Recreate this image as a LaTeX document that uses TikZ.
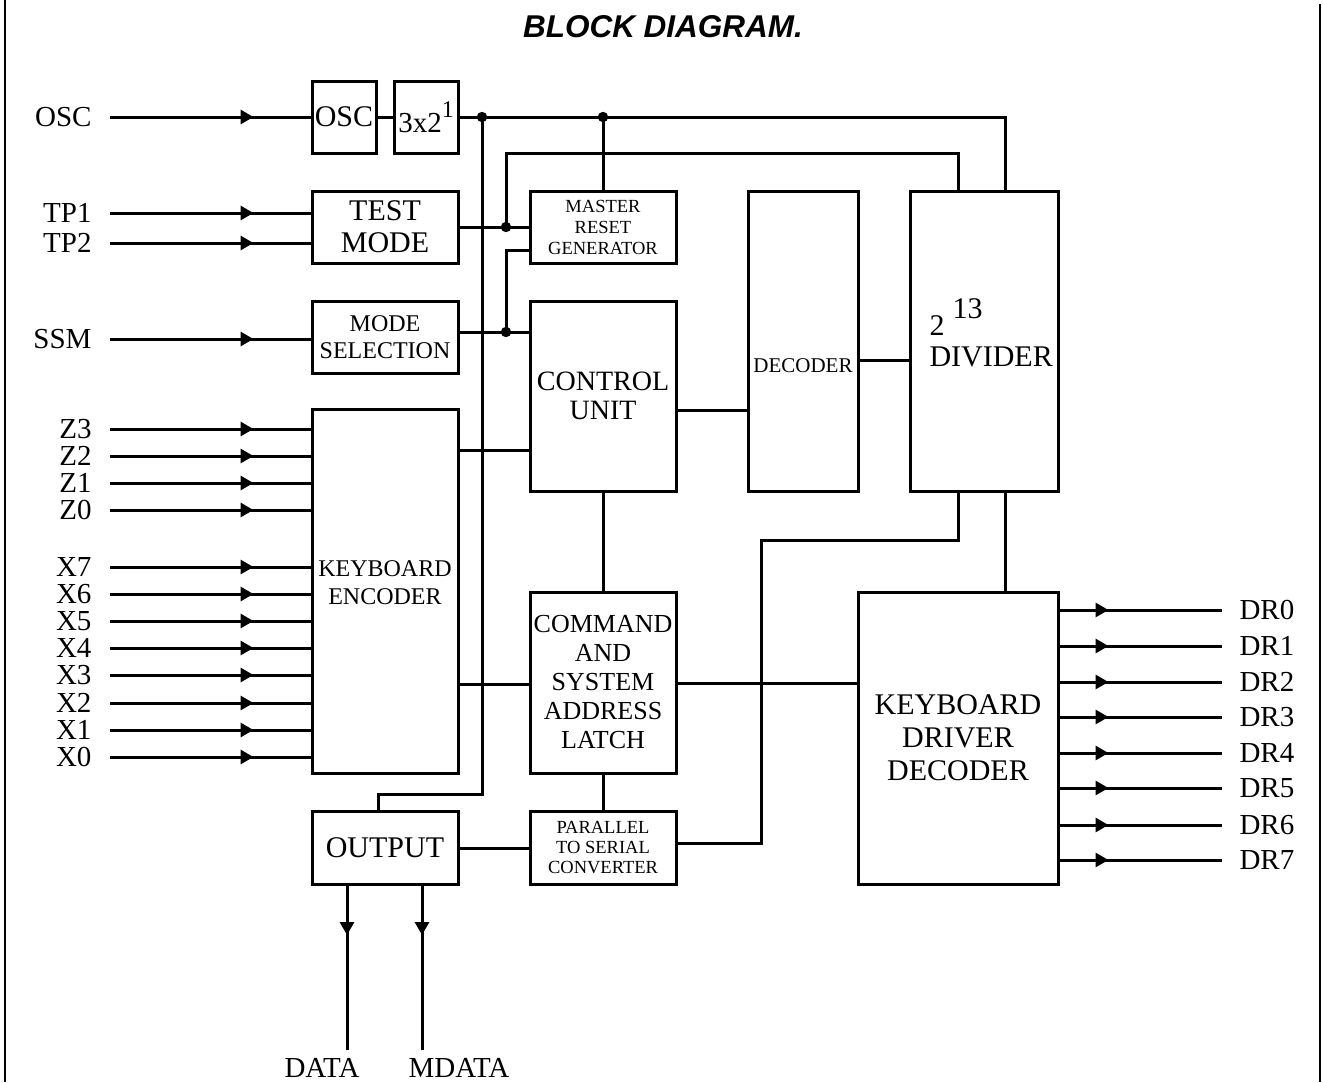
\documentclass[tikz,border=0pt]{standalone}
\usepackage{fontspec}
\setmainfont{Liberation Serif}
\newfontfamily\headfont{Liberation Sans}
\usetikzlibrary{arrows.meta,decorations.markings}
\newcommand\fxl{\fontsize{15}{16}\selectfont}
\newcommand\fxctl{\fontsize{14}{14.5}\selectfont}
\newcommand\fxcmd{\fontsize{13}{14.5}\selectfont}
\newcommand\fxmid{\fontsize{12}{13.5}\selectfont}
\newcommand\fxsm{\fontsize{9.25}{10.5}\selectfont}
\begin{document}
\begin{tikzpicture}[x=0.5pt, y=-0.5pt, line width=1.5pt,
  blk/.style={draw, line width=1.5pt, inner sep=0pt, align=center},
  lbl/.style={inner sep=0pt, font=\fontsize{14.5}{15}\selectfont},
  arrin/.style={postaction={decorate}, decoration={markings, mark=at position -28.5pt with {\arrow{Triangle[length=6.5pt,width=7pt]}}}},
  arrout/.style={postaction={decorate}, decoration={markings, mark=at position 24.5pt with {\arrow{Triangle[length=6.5pt,width=7pt]}}}}]
\useasboundingbox (0,0) rectangle (1323,1082);
\fill[white] (0,0) rectangle (1323,1082);
\draw[line width=1.3pt] (5,0) -- (5,1082);
\draw[line width=1.3pt] (1320,4) -- (1320,1082);
\node[font={\headfont\bfseries\itshape\fontsize{15.75}{17}\selectfont}] (title) at (663,27) {BLOCK DIAGRAM.};

\node[blk, minimum width=32pt, minimum height=36pt, font=\fxl] (oscb) at (344,117) {OSC};
\node[blk, minimum width=32pt, minimum height=36pt, font=\fontsize{14.5}{15}\selectfont] (mult) at (426,117) {3x2\raisebox{0.5em}{\fontsize{12}{12}\selectfont 1}};
\node[blk, minimum width=73pt, minimum height=36pt, font=\fxl] (test) at (385,227) {TEST\\MODE};
\node[blk, minimum width=73pt, minimum height=36pt, font=\fxsm] (mrg) at (603,227) {MASTER\\RESET\\GENERATOR};
\node[blk, minimum width=73pt, minimum height=36pt, font=\fxmid] (modesel) at (385,337) {MODE\\SELECTION};
\node[blk, minimum width=73pt, minimum height=95pt, font=\fxctl] (ctrl) at (603,396) {CONTROL\\UNIT};
\node[blk, minimum width=55pt, minimum height=150pt] (dec) at (803,341) {};
\node[inner sep=0pt, font=\fontsize{10.5}{11}\selectfont] (dect) at (803,366) {DECODER};
\node[blk, minimum width=74pt, minimum height=150pt] (div) at (984,341) {};
\node[inner sep=0pt, anchor=west, align=left, font=\fontsize{15}{15.5}\selectfont] (divt) at (928,333) {2\hspace{4pt}\raisebox{0.55em}{13}\\DIVIDER};
\node[blk, minimum width=73pt, minimum height=182pt] (kenc) at (385,591) {};
\node[inner sep=0pt, align=center, font=\fontsize{12}{14}\selectfont] (kenct) at (385,583) {KEYBOARD\\ENCODER};
\node[blk, minimum width=73pt, minimum height=90.5pt, font=\fxcmd] (cmd) at (603,682.5) {COMMAND\\AND\\SYSTEM\\ADDRESS\\LATCH};
\node[blk, minimum width=100pt, minimum height=146pt, font=\fontsize{15}{16.5}\selectfont] (kdd) at (958,738) {KEYBOARD\\DRIVER\\DECODER};
\node[blk, minimum width=73pt, minimum height=36.5pt, font=\fxl] (outp) at (385,848) {OUTPUT};
\node[blk, minimum width=73pt, minimum height=36.5pt, font=\fontsize{9.25}{10}\selectfont] (p2s) at (603,848) {PARALLEL\\TO SERIAL\\CONVERTER};

\node[lbl, anchor=east] (oscl) at (93,117) {OSC};
\node[lbl, anchor=east] (tp1) at (93,213) {TP1};
\node[lbl, anchor=east] (tp2) at (93,243) {TP2};
\node[lbl, anchor=east] (ssm) at (93,339) {SSM};
\draw[arrin] ([xshift=8.5pt]oscl.east) -- (oscb.west);
\draw[arrin] ([xshift=8.5pt]tp1.east) -- (test.west |- tp1.east);
\draw[arrin] ([xshift=8.5pt]tp2.east) -- (test.west |- tp2.east);
\draw[arrin] ([xshift=8.5pt]ssm.east) -- (modesel.west |- ssm.east);
\foreach \n/\y in {Z3/429, Z2/456, Z1/483, Z0/510, X7/567, X6/594, X5/621, X4/648, X3/675, X2/703, X1/730, X0/757} {
  \node[lbl, anchor=east] (\n) at (93,\y) {\n};
  \draw[arrin] ([xshift=8.5pt]\n.east) -- (kenc.west |- \n.east);
}
\foreach \i/\y in {0/610, 1/646, 2/682, 3/717, 4/753, 5/788, 6/825, 7/860} {
  \node[lbl, anchor=west] (dr\i) at (1238,\y) {DR\i};
  \draw[arrout] (kdd.east |- dr\i.west) -- ([xshift=-8pt]dr\i.west);
}

\coordinate (j1) at (482,117);
\coordinate (j2) at (mrg.north |- oscb.east);
\coordinate (j3) at (506,227);
\coordinate (j4) at (506,332);
\draw (oscb) -- (mult);
\draw (mult.east) -| ([xshift=10.5pt]div.north);
\draw (j2) -- (mrg.north);
\draw (j1) -- (j1 |- 0,794) -| ([xshift=-3.5pt]outp.north);
\draw (test.east) -- (mrg.west);
\draw (j3) -- (j3 |- 0,153) -| ([xshift=-13pt]div.north);
\draw ([yshift=2.5pt]modesel.east) -- (ctrl.west |- j4);
\draw ([yshift=-11.5pt]mrg.west) -| (j4);
\draw (kenc.east |- 0,450) -- (ctrl.west |- 0,450);
\draw (ctrl.east |- 0,410) -- (dec.west |- 0,410);
\draw (dec.east |- 0,360) -- (div.west |- 0,360);
\draw (ctrl.south) -- (cmd.north);
\draw (kenc.east |- 0,684) -- (cmd.west |- 0,684);
\draw (cmd.east |- 0,683) -- (kdd.west |- 0,683);
\draw (cmd.south) -- (p2s.north);
\draw (outp.east) -- (p2s.west);
\draw ([xshift=10.5pt]div.south) -- ([xshift=10.5pt]div.south |- kdd.north);
\draw ([xshift=-13pt]div.south) |- (761,540) -- (761,843) -- ([yshift=2.5pt]p2s.east);
\foreach \j in {j1, j2, j3, j4} \fill (\j) circle[radius=2.6pt];

\node[lbl] (data) at (322,1068) {DATA};
\node[lbl] (mdata) at (459,1068) {MDATA};
\coordinate (dataend) at (347,1050);
\coordinate (mdataend) at (422,1050);
\draw[arrout] (outp.south -| dataend) -- (dataend);
\draw[arrout] (outp.south -| mdataend) -- (mdataend);
\end{tikzpicture}
\end{document}
